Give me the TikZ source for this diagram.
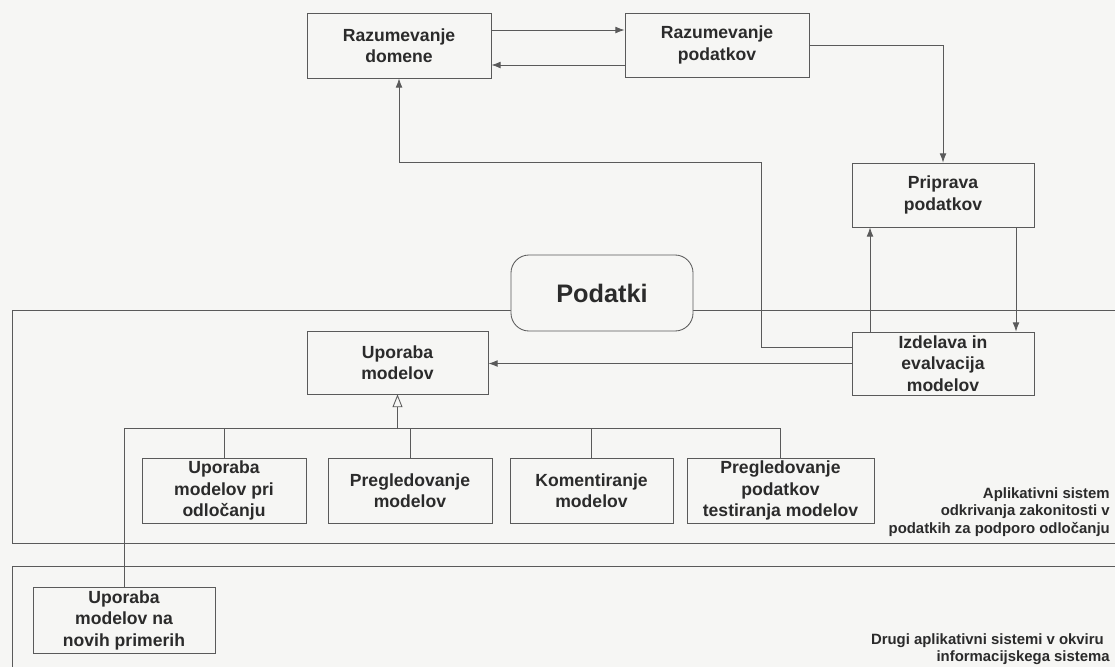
\documentclass[tikz,border=0pt]{standalone}
\usepackage{fontspec}
\setmainfont{Liberation Sans}
\usetikzlibrary{arrows.meta}
\definecolor{linegray}{HTML}{5A5A5A}
\definecolor{textgray}{HTML}{2B2B2B}
\definecolor{paper}{HTML}{F6F6F4}
\tikzset{
  box/.style={draw=linegray, line width=0.6pt, fill=paper, text=textgray, align=center,
    inner sep=0pt, font=\fontsize{12.5}{15.3}\selectfont\bfseries},
  arr/.style={draw=linegray, line width=0.6pt, -{Latex[length=2.3mm,width=1.7mm]}},
  gen/.style={draw=linegray, line width=0.6pt, -{Triangle[open,length=3.2mm,width=2.5mm]}},
  ln/.style={draw=linegray, line width=0.6pt},
  lbl/.style={text=textgray, align=right, inner sep=0pt, font=\fontsize{10.6}{12.5}\selectfont\bfseries}
}
\begin{document}
\begin{tikzpicture}[x=0.025cm,y=-0.025cm]
 \fill[paper] (0,0) rectangle (1115,667);
 \useasboundingbox (0,0) rectangle (1115,667);
 \draw[ln] (1115,310)--(12,310)--(12,543)--(1115,543);
 \draw[ln] (1115,566)--(12,566)--(12,667);
 \node[box,minimum width=4.6cm,minimum height=1.625cm] (dom) at (399,45.5) {Razumevanje\\domene};
 \node[box,minimum width=4.6cm,minimum height=1.6cm] (rp) at (717,45) {Razumevanje\\podatkov};
 \node[box,minimum width=4.55cm,minimum height=1.6cm] (prip) at (943,195) {Priprava\\podatkov};
 \node[box,minimum width=4.55cm,minimum height=1.575cm] (izd) at (943,363.5) {Izdelava in\\evalvacija\\modelov};
 \node[box,minimum width=4.525cm,minimum height=1.575cm] (upo) at (397.5,362.5) {Uporaba\\modelov};
 \node[box,rounded corners=0.45cm,minimum width=4.55cm,minimum height=1.9cm,font=\fontsize{18}{21}\selectfont\bfseries] (dat) at (602,293) {Podatki};
 \node[box,minimum width=4.1cm,minimum height=1.625cm] (c1) at (224,490.5) {Uporaba\\modelov pri\\odločanju};
 \node[box,minimum width=4.1cm,minimum height=1.625cm] (c2) at (410,490.5) {Pregledovanje\\modelov};
 \node[box,minimum width=4.075cm,minimum height=1.625cm] (c3) at (591.5,490.5) {Komentiranje\\modelov};
 \node[box,minimum width=4.675cm,minimum height=1.625cm] (c4) at (780.5,490.5) {Pregledovanje\\podatkov\\testiranja modelov};
 \node[box,minimum width=4.55cm,minimum height=1.65cm] (nov) at (124,620) {Uporaba\\modelov na\\novih primerih};
 \node[lbl,anchor=east] (app) at (1110,512) {Aplikativni sistem\\odkrivanja zakonitosti v\hspace*{0.3em}\\podatkih za podporo odločanju};
 \node[lbl,anchor=east] (drugi) at (1110,649) {Drugi aplikativni sistemi v okviru\hspace*{0.4em}\\informacijskega sistema};
 \coordinate (bus) at (397.5,428);
 \draw[arr] (dom.east |- 0,30) -- (rp.west |- 0,30);
 \draw[arr] (rp.west |- 0,65) -- (dom.east |- 0,65);
 \draw[arr] (rp.east) -| (prip.north);
 \draw[arr] (prip.south -| 1016,0) -- (izd.north -| 1016,0);
 \draw[arr] (izd.north -| 870,0) -- (prip.south -| 870,0);
 \draw[arr] (izd.west |- 0,347) -- (761,347) -- (761,162) -| (dom.south);
 \draw[arr] (izd.west) -- (upo.east |- izd.west);
 \foreach \c in {c1,c2,c3,c4,nov}
   \draw[ln] (\c.north) |- (bus);
 \draw[gen] (bus) -- (upo.south);
\end{tikzpicture}
\end{document}
